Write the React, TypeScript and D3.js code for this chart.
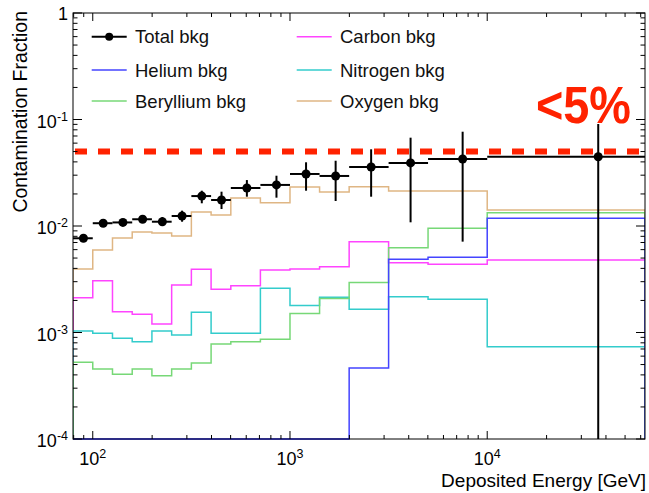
import React from "react";
import * as d3 from "d3";

// ---------- data ----------
const binEdges = [79.4, 100, 125.9, 158.5, 199.5, 251.2, 316.2, 398.1, 501.2, 707.9, 1000, 1412.5, 1995.3, 3162.3, 5011.9, 10000, 63095.7];

const totalVals = [0.00767, 0.01062, 0.0108, 0.01157, 0.01097, 0.01242, 0.0191, 0.01755, 0.02275, 0.0243, 0.0308, 0.0295, 0.0358, 0.0391, 0.0426, 0.0447];
const totalLow = [0.0074, 0.0102, 0.0104, 0.01067, 0.0100, 0.01097, 0.01634, 0.01444, 0.01884, 0.01845, 0.02145, 0.01717, 0.01884, 0.01083, 0.00713, 0.00001];
const totalHigh = [0.0080, 0.0111, 0.0112, 0.01242, 0.01215, 0.01393, 0.02145, 0.0210, 0.0270, 0.02966, 0.03965, 0.0410, 0.0525, 0.0675, 0.0768, 0.0907];

const heliumVals = [0, 0, 0, 0, 0, 0, 0, 0, 0, 0, 0, 0, 0.000464, 0.00487, 0.00508, 0.0118];
const berylliumVals = [0.000525, 0.000454, 0.000405, 0.000454, 0.000393, 0.000454, 0.000517, 0.00078, 0.00082, 0.000863, 0.00151, 0.00209, 0.00294, 0.00625, 0.0095, 0.01333];
const carbonVals = [0.00212, 0.00306, 0.00157, 0.00148, 0.0012, 0.00279, 0.00392, 0.00255, 0.00275, 0.00386, 0.00395, 0.00415, 0.00713, 0.00452, 0.00437, 0.0048];
const nitrogenVals = [0.001033, 0.000983, 0.000882, 0.00082, 0.001033, 0.000948, 0.00155, 0.000983, 0.000983, 0.0026, 0.00179, 0.00214, 0.00165, 0.00217, 0.00205, 0.000736];
const oxygenVals = [0.00395, 0.00596, 0.0077, 0.00879, 0.00859, 0.00805, 0.01353, 0.01268, 0.01832, 0.01655, 0.0232, 0.02085, 0.0234, 0.0213, 0.0213, 0.01413];

const limitValue = 0.05;
const limitLabel = "<5%";
const xTitle = "Deposited Energy [GeV]";
const yTitle = "Contamination Fraction";
const xDomain = [79.4, 63095.7];
const yDomain = [1e-4, 1];

const seriesNames = ["Total bkg", "Helium bkg", "Beryllium bkg", "Carbon bkg", "Nitrogen bkg", "Oxygen bkg"];

// ---------- layout / style ----------
const W = 649, H = 493;
const L = 73, R = 645, T = 13, B = 439;
const FONT = "'Liberation Sans', Arial, Helvetica, sans-serif";

const histSeries = [
  { name: "Oxygen bkg", vals: oxygenVals, color: "#dfb684" },
  { name: "Carbon bkg", vals: carbonVals, color: "#ff44ff" },
  { name: "Nitrogen bkg", vals: nitrogenVals, color: "#33cccc" },
  { name: "Beryllium bkg", vals: berylliumVals, color: "#77d877" },
  { name: "Helium bkg", vals: heliumVals, color: "#4444ff" },
];
const colorOf: Record<string, string> = {
  "Total bkg": "#000",
  "Helium bkg": "#4444ff",
  "Beryllium bkg": "#77d877",
  "Carbon bkg": "#ff44ff",
  "Nitrogen bkg": "#33cccc",
  "Oxygen bkg": "#dfb684",
};

export default function App() {
  const x = d3.scaleLog().domain(xDomain).range([L, R]);
  const y = d3.scaleLog().domain(yDomain).range([B, T]);
  const yc = (v: number) => (v <= yDomain[0] ? B : Math.max(T, y(v)));

  const histPath = (vals: number[]) => {
    let p = `M${x(binEdges[0])},${B}`;
    vals.forEach((v, i) => {
      p += `V${yc(v)}H${x(binEdges[i + 1])}`;
    });
    p += `V${B}`;
    return p;
  };

  const xTicks = x.ticks();
  const yTicks = y.ticks();
  const isMajor = (v: number) => Math.abs(Math.log10(v) - Math.round(Math.log10(v))) < 1e-6;

  const sup = (v: number) => Math.round(Math.log10(v));

  const legendRows = [36.7, 70, 101];
  const legendCols = [{ lx: 91.7, tx: 135 }, { lx: 296.7, tx: 340 }];

  return (
    <svg width={W} height={H} style={{ position: "absolute", left: 0, top: 0, background: "#fff" }} fontFamily={FONT}>
      <defs>
        <clipPath id="plot">
          <rect x={L} y={T} width={R - L} height={B - T + 1} />
        </clipPath>
      </defs>
      <rect x={0} y={0} width={W} height={H} fill="#fff" />

      {/* histograms */}
      <g clipPath="url(#plot)">
        {histSeries.map((s) => (
          <path key={s.name} d={histPath(s.vals)} fill="none" stroke={s.color} strokeWidth={1.5} />
        ))}
      </g>

      {/* limit line */}
      <line x1={L} x2={R} y1={y(limitValue)} y2={y(limitValue)} stroke="#ff2200" strokeWidth={6} strokeDasharray="12 11" strokeDashoffset={-2} />

      {/* total with error bars */}
      <g clipPath="url(#plot)" stroke="#000" strokeWidth={2}>
        {totalVals.map((v, i) => {
          const lo = binEdges[i], hi = binEdges[i + 1];
          const cx = x((lo + hi) / 2);
          const cy = y(v);
          return (
            <g key={i}>
              <line x1={x(lo)} x2={x(hi)} y1={cy} y2={cy} />
              <line x1={cx} x2={cx} y1={yc(totalLow[i])} y2={yc(totalHigh[i])} />
              <circle cx={cx} cy={cy} r={4.5} fill="#000" stroke="none" />
            </g>
          );
        })}
      </g>

      {/* frame */}
      <rect x={L} y={T} width={R - L} height={B - T} fill="none" stroke="#000" strokeWidth={1} />
      <line x1={L} x2={x(binEdges[12])} y1={B} y2={B} stroke="#2a2a88" strokeWidth={1.5} />

      {/* x ticks */}
      {xTicks.map((t, i) => {
        const len = isMajor(t) ? 8 : 4;
        const px = x(t);
        return (
          <g key={"xt" + i} stroke="#000" strokeWidth={1}>
            <line x1={px} x2={px} y1={B} y2={B - len} />
            <line x1={px} x2={px} y1={T} y2={T + len} />
          </g>
        );
      })}
      {/* y ticks */}
      {yTicks.map((t, i) => {
        const len = isMajor(t) ? 9 : 4.5;
        const py = y(t);
        return (
          <g key={"yt" + i} stroke="#000" strokeWidth={1}>
            <line x1={L} x2={L + len} y1={py} y2={py} />
            <line x1={R} x2={R - len} y1={py} y2={py} />
          </g>
        );
      })}

      {/* x tick labels */}
      {xTicks.filter(isMajor).map((t, i) => (
        <text key={"xl" + i} x={x(t)} y={465} textAnchor="middle" fontSize={18} fill="#000">
          10<tspan fontSize={12.5} dy={-7}>{sup(t)}</tspan>
        </text>
      ))}
      {/* y tick labels */}
      {yTicks.filter(isMajor).map((t, i) => {
        const e = sup(t);
        return e === 0 ? (
          <text key={"yl" + i} x={68} y={y(t) + 6.5} textAnchor="end" fontSize={18} fill="#000">1</text>
        ) : (
          <text key={"yl" + i} x={68} y={y(t) + 8} textAnchor="end" fontSize={18} fill="#000">
            10<tspan fontSize={12.5} dy={-7}>{e}</tspan>
          </text>
        );
      })}

      {/* axis titles */}
      <text x={646} y={487} textAnchor="end" fontSize={19} fill="#000">{xTitle}</text>
      <text transform="translate(27,11) rotate(-90)" textAnchor="end" fontSize={19.5} fill="#000">{yTitle}</text>

      {/* limit label */}
      <text x={536} y={122.5} fontSize={52} fontWeight="bold" fill="#ff2200" textLength={95} lengthAdjust="spacingAndGlyphs">{limitLabel}</text>

      {/* legend */}
      {seriesNames.map((name, i) => {
        const col = legendCols[Math.floor(i / 3)];
        const ry = legendRows[i % 3];
        const c = colorOf[name];
        return (
          <g key={name}>
            <line x1={col.lx} x2={col.lx + 35} y1={ry} y2={ry} stroke={c} strokeWidth={name === "Total bkg" ? 2 : 1.5} />
            {name === "Total bkg" && <circle cx={col.lx + 17.5} cy={ry} r={4} fill="#000" />}
            <text x={col.tx} y={ry + 6.5} fontSize={18.5} fill="#111">{name}</text>
          </g>
        );
      })}
    </svg>
  );
}
